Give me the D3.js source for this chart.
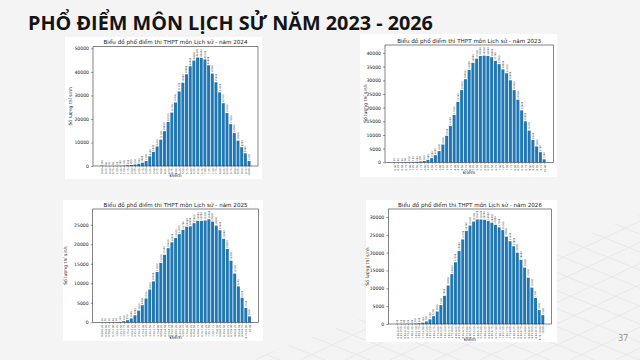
<!DOCTYPE html>
<html>
<head>
<meta charset="utf-8">
<script src="https://cdn.jsdelivr.net/npm/d3@7"></script>
<style>
  body { margin: 0; background: #f4f4f4; }
  svg { display: block; }
</style>
</head>
<body>
<svg id="slide" width="640" height="360"></svg>
<script>
// score bins 0 -> 10 step 0.25
const scoreLabels = ["0.00","0.25","0.50","0.75","1.00","1.25","1.50","1.75","2.00","2.25","2.50","2.75","3.00","3.25","3.50","3.75","4.00","4.25","4.50","4.75","5.00","5.25","5.50","5.75","6.00","6.25","6.50","6.75","7.00","7.25","7.50","7.75","8.00","8.25","8.50","8.75","9.00","9.25","9.50","9.75","10.00"];

// so luong thi sinh
const counts2024 = [150, 40, 30, 40, 60, 100, 200, 300, 450, 650, 950, 1400, 2100, 4100, 6000, 8300, 11200, 14800, 18700, 22700, 27000, 31700, 35400, 39000, 42400, 44800, 46100, 46000, 45300, 42800, 39300, 35600, 31300, 26700, 22500, 17800, 14000, 10800, 8000, 5400, 2100];
const counts2023 = [60, 40, 60, 80, 100, 150, 200, 300, 500, 900, 1500, 2600, 4100, 6500, 9700, 13300, 17300, 22100, 26400, 30400, 33800, 36400, 37900, 38900, 39000, 38900, 38400, 37100, 35900, 34000, 32600, 30000, 26400, 22900, 19000, 15000, 11600, 8200, 5800, 3700, 1100];
const counts2025 = [30, 20, 30, 40, 60, 120, 300, 550, 1000, 1800, 3000, 4400, 6100, 8400, 10500, 12900, 15200, 17300, 19000, 20500, 21600, 22600, 23700, 24500, 24600, 25400, 26000, 26000, 26100, 26400, 25800, 24800, 23600, 21400, 18800, 15800, 12500, 9200, 6300, 3700, 1500];
const counts2026 = [50, 30, 40, 60, 80, 120, 200, 350, 700, 1300, 2200, 3500, 5300, 7900, 10800, 14000, 17300, 20500, 23700, 26100, 27600, 28700, 29300, 29300, 29200, 28900, 28400, 27800, 27100, 26300, 24500, 23200, 21800, 20000, 18000, 15800, 13000, 10200, 7300, 3900, 2500];

const years = [2024, 2023, 2025, 2026];

// range style labels for the last two charts
const rangeLabels = scoreLabels.map((s, i) => i < scoreLabels.length - 1 ? s + "-" + scoreLabels[i + 1] : s);

const svg = d3.select("#slide");
const blue = "#1f77b4";

// background + faint grid decoration (bottom right only)
svg.append("rect").attr("width", 640).attr("height", 360).attr("fill", "#f4f4f4");
svg.append("clipPath").attr("id", "decoClip")
  .append("path").attr("d", "M250,360 L640,215 L640,360 Z");
const deco = svg.append("g").attr("clip-path", "url(#decoClip)")
  .attr("stroke", "#e6e6e6").attr("stroke-width", 0.8).attr("fill", "none");
for (let k = -8; k < 10; k++) {
  deco.append("line").attr("x1", 240 + k * 45).attr("y1", 200).attr("x2", 640 + k * 45).attr("y2", 360);
  deco.append("line").attr("x1", 300 + k * 45).attr("y1", 360).attr("x2", 640 + k * 45).attr("y2", 200);
}

svg.append("text")
  .attr("x", 28).attr("y", 30)
  .attr("font-family", "'Open Sans', sans-serif")
  .attr("font-weight", 700)
  .attr("font-size", 19.8)
  .attr("fill", "#141414")
  .text("PHỔ ĐIỂM MÔN LỊCH SỬ NĂM 2023 - 2026");

svg.append("text")
  .attr("x", 628).attr("y", 341)
  .attr("text-anchor", "end")
  .attr("font-family", "'Open Sans', sans-serif")
  .attr("font-size", 8.5)
  .attr("fill", "#8a8a8a")
  .text("37");

const panels = [
  {values: counts2024, labels: scoreLabels, box: [65, 37, 197, 142], l: 93, r: 258, t: 46.7, b: 166, step: 10000, xlab: 10.5, ylabX: 72},
  {values: counts2023, labels: scoreLabels, box: [360, 34, 197, 143], l: 385, r: 553.3, t: 45, b: 162.3, step: 5000, xlab: 12, ylabX: 367},
  {values: counts2025, labels: rangeLabels, box: [63, 200, 200, 141], l: 92.7, r: 258.5, t: 209, b: 322.3, step: 5000, xlab: 16.5, ylabX: 67},
  {values: counts2026, labels: rangeLabels, box: [366, 200, 191, 142], l: 388.3, r: 551.7, t: 209, b: 324, step: 5000, xlab: 16.5, ylabX: 369}
];

panels.forEach((p, pi) => {
  const g = svg.append("g");
  g.append("rect")
    .attr("x", p.box[0]).attr("y", p.box[1])
    .attr("width", p.box[2]).attr("height", p.box[3])
    .attr("fill", "#ffffff");

  const n = p.values.length;
  const pad = 0.05 * (n - 1 + 0.8);
  const x = d3.scaleLinear().domain([-0.4 - pad, n - 1 + 0.4 + pad]).range([p.l, p.r]);
  const ymax = d3.max(p.values) * 1.1;
  const y = d3.scaleLinear().domain([0, ymax]).range([p.b, p.t]);

  // bars
  g.selectAll(".bar").data(p.values).enter().append("rect")
    .attr("x", (d, i) => x(i - 0.4))
    .attr("width", (d, i) => x(i + 0.4) - x(i - 0.4))
    .attr("y", d => y(d))
    .attr("height", d => p.b - y(d))
    .attr("fill", blue);

  // value labels on top of bars
  g.selectAll(".val").data(p.values).enter().append("text")
    .attr("transform", (d, i) => "translate(" + (x(i) + 0.9) + "," + (y(d) - 1) + ") rotate(-90)")
    .attr("font-family", "DejaVu Sans, sans-serif")
    .attr("font-size", 2.4)
    .attr("fill", "#444")
    .text(d => d);

  // y axis
  const yAxis = d3.axisLeft(y).tickValues(d3.range(0, ymax, p.step)).tickSize(2).tickPadding(2).tickFormat(d3.format("d"));
  const ya = g.append("g").attr("transform", "translate(" + p.l + ",0)").call(yAxis);
  ya.select(".domain").remove();
  ya.selectAll("text").attr("font-family", "DejaVu Sans, sans-serif").attr("font-size", 4.6).attr("fill", "#222");
  ya.selectAll("line").attr("stroke", "#333").attr("stroke-width", 0.5);

  // x axis
  const xAxis = d3.axisBottom(x).tickValues(d3.range(n)).tickSize(1.5).tickPadding(1).tickFormat(i => p.labels[i]);
  const xa = g.append("g").attr("transform", "translate(0," + p.b + ")").call(xAxis);
  xa.select(".domain").remove();
  xa.selectAll("line").attr("stroke", "#333").attr("stroke-width", 0.4);
  xa.selectAll("text")
    .attr("font-family", "DejaVu Sans, sans-serif")
    .attr("font-size", 2.5)
    .attr("fill", "#333")
    .attr("text-anchor", "end")
    .attr("dy", "0.35em")
    .attr("transform", "translate(0,2.5) rotate(-90)")
    .attr("x", 0).attr("y", 0);

  // frame
  g.append("rect")
    .attr("x", p.l).attr("y", p.t)
    .attr("width", p.r - p.l).attr("height", p.b - p.t)
    .attr("fill", "none").attr("stroke", "#333").attr("stroke-width", 0.6);

  g.append("text")
    .attr("x", (p.l + p.r) / 2).attr("y", p.t - 2.5)
    .attr("text-anchor", "middle")
    .attr("font-family", "DejaVu Sans, sans-serif")
    .attr("font-size", 5.6)
    .attr("fill", "#222")
    .text("Biểu đồ phổ điểm thi THPT môn Lịch sử - năm " + years[pi]);

  g.append("text")
    .attr("x", (p.l + p.r) / 2).attr("y", p.b + p.xlab)
    .attr("text-anchor", "middle")
    .attr("font-family", "DejaVu Sans, sans-serif")
    .attr("font-size", 4.6)
    .attr("fill", "#222")
    .text("Điểm");

  g.append("text")
    .attr("transform", "translate(" + p.ylabX + "," + ((p.t + p.b) / 2) + ") rotate(-90)")
    .attr("text-anchor", "middle")
    .attr("font-family", "DejaVu Sans, sans-serif")
    .attr("font-size", 4.6)
    .attr("fill", "#222")
    .text("Số lượng thí sinh");
});
</script>
</body>
</html>
